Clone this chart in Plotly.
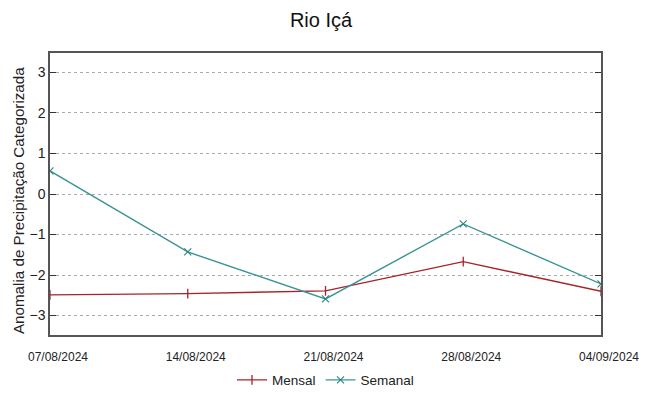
import plotly.graph_objects as go

dates = ["2024-08-07", "2024-08-14", "2024-08-21", "2024-08-28", "2024-09-04"]
tick_labels = ["07/08/2024", "14/08/2024", "21/08/2024", "28/08/2024", "04/09/2024"]
mensal = [-2.49, -2.46, -2.39, -1.67, -2.40]
semanal = [0.57, -1.43, -2.59, -0.74, -2.22]
y_ticks = [-3, -2, -1, 0, 1, 2, 3]
y_title = "Anomalia de Precipitação Categorizada"

fig = go.Figure()
fig.add_trace(go.Scatter(
    x=dates, y=mensal, name="Mensal", mode="lines+markers",
    line=dict(color="#a8222a", width=1.4),
    marker=dict(symbol="line-ns", size=7, line=dict(color="#a8222a", width=1.3), color="#a8222a"),
))
fig.add_trace(go.Scatter(
    x=dates, y=semanal, name="Semanal", mode="lines+markers",
    line=dict(color="#3a9494", width=1.4),
    marker=dict(symbol="x-thin-open", size=7, line=dict(color="#2a8585", width=1.1), color="#2a8585"),
))

# page body has an 8px margin, so the figure is sized/margined to compensate
fig.update_layout(
    width=641, height=388,
    margin=dict(l=42, r=48, t=45, b=61, autoexpand=False),
    paper_bgcolor="white", plot_bgcolor="white",
    font=dict(family="Liberation Sans, Arial, sans-serif", color="#222"),
    title=dict(text="Rio Içá", x=(321 - 8) / 641, xanchor="center", y=1 - 12 / 388, yanchor="middle",
               font=dict(size=20, color="#111")),
    showlegend=True,
    legend=dict(orientation="h", x=0.5, xanchor="center", y=-0.105, yanchor="top",
                font=dict(size=13.5, color="#222"), bgcolor="rgba(0,0,0,0)"),
    annotations=[dict(text=y_title, xref="paper", yref="paper", x=-0.058, y=0.475,
                      xanchor="center", yanchor="middle", textangle=-90, showarrow=False,
                      font=dict(size=15.2, color="#222"))],
)
fig.update_xaxes(
    type="date", range=[dates[0], dates[-1]],
    tickmode="array", tickvals=dates, ticktext=tick_labels,
    tickfont=dict(size=12, color="#222"),
    showgrid=False, zeroline=False, automargin=False,
    showline=True, linecolor="#555", linewidth=1.5, mirror=True,
    ticks="", ticklabelstandoff=10, ticklabelshift=8,
)
fig.update_yaxes(
    range=[-3.48, 3.48], tickmode="array", tickvals=y_ticks,
    tickfont=dict(size=14, color="#222"),
    showgrid=True, gridcolor="#aaaaaa", griddash="dot", gridwidth=1,
    zeroline=False, automargin=False,
    showline=True, linecolor="#555", linewidth=1.5, mirror="ticks",
    ticks="inside", ticklen=6, tickcolor="#333", tickwidth=1,
)

fig.write_html("out.html")
